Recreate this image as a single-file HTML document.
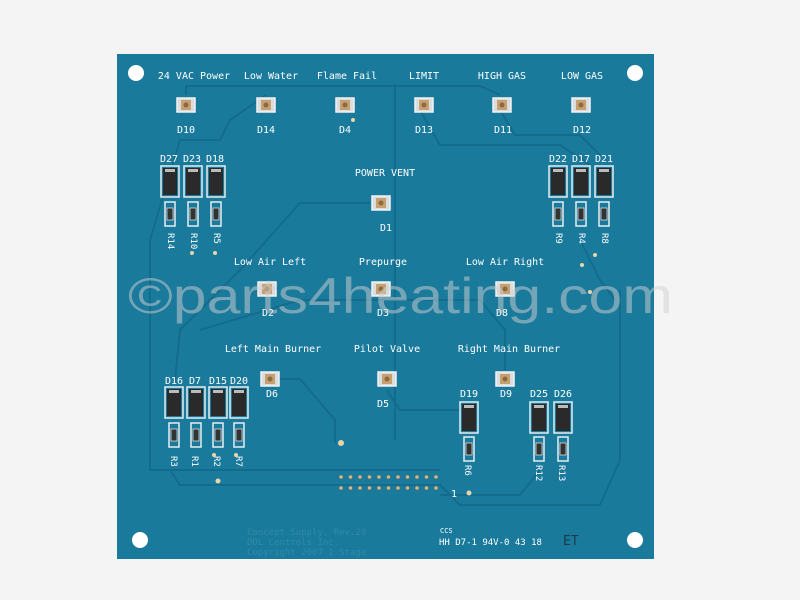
<!DOCTYPE html>
<html><head><meta charset="utf-8"><style>
html,body{margin:0;padding:0;background:#f4f4f4;}
svg{display:block;}
text{font-family:"DejaVu Sans Mono","Liberation Mono",monospace;}
</style></head><body>
<svg width="800" height="600" viewBox="0 0 800 600" xmlns="http://www.w3.org/2000/svg">
<defs>
<g id="led">
<rect x="-9" y="-7" width="18" height="14" fill="#d9dde0" stroke="#f2f2f2" stroke-width="1.5"/>
<rect x="-5" y="-5" width="10" height="10" fill="#c8a070"/>
<circle cx="0" cy="0" r="2.5" fill="#8a6a40"/>
</g>
<g id="dio">
<rect x="-9" y="0" width="18" height="31" fill="none" stroke="#e8eef0" stroke-width="1.5"/>
<rect x="-7" y="2" width="14" height="27" fill="#2a2a2a"/>
<rect x="-5" y="3" width="10" height="3" fill="#bbb"/>
</g>
<g id="res">
<rect x="-5" y="0" width="10" height="24" fill="none" stroke="#e8eef0" stroke-width="1.5"/>
<rect x="-3" y="6" width="6" height="12" fill="#333" stroke="#ddd" stroke-width="0.8"/>
</g>
</defs>
<rect width="800" height="600" fill="#f4f4f4"/>
<rect x="117" y="54" width="537" height="505" fill="#1a7a9c"/>
<!-- traces -->
<g fill="none" stroke="#136c8c" stroke-width="2">
<path d="M395 84 V440"/>
<path d="M186 95 V86 H480 L500 95"/>
<path d="M266 95 L230 120 L220 140 H180 L150 240 V470 H440"/>
<path d="M420 110 L440 145 H560 L590 165"/>
<path d="M500 110 L515 135 H580 L600 155"/>
<path d="M370 203 H300 L240 270 L180 330 L175 380"/>
<path d="M280 379 H300 L335 420 V443"/>
<path d="M387 390 L400 410 H460"/>
<path d="M505 370 V330 L480 300 H400 L300 300 L200 330"/>
<path d="M170 470 L180 485 H440 L460 505 H600 L620 460 V290"/>
<path d="M440 495 H520 L540 470"/>
<path d="M580 240 L600 280 L615 300"/>
</g>
<!-- holes -->
<circle cx="136" cy="73" r="8" fill="#fff"/>
<circle cx="635" cy="73" r="8" fill="#fff"/>
<circle cx="140" cy="540" r="8" fill="#fff"/>
<circle cx="635" cy="540" r="8" fill="#fff"/>
<g fill="#fff" font-size="10" text-anchor="middle">
<text x="194" y="79">24 VAC Power</text>
<text x="271" y="79">Low Water</text>
<text x="347" y="79">Flame Fail</text>
<text x="424" y="79">LIMIT</text>
<text x="502" y="79">HIGH GAS</text>
<text x="582" y="79">LOW GAS</text>
<text x="186" y="133">D10</text><text x="266" y="133">D14</text><text x="345" y="133">D4</text>
<text x="424" y="133">D13</text><text x="503" y="133">D11</text><text x="582" y="133">D12</text>
<text x="169" y="162">D27</text><text x="192" y="162">D23</text><text x="215" y="162">D18</text>
<text x="558" y="162">D22</text><text x="581" y="162">D17</text><text x="604" y="162">D21</text>
<text x="385" y="176">POWER VENT</text>
<text x="386" y="231">D1</text>
<text x="270" y="265">Low Air Left</text>
<text x="383" y="265">Prepurge</text>
<text x="505" y="265">Low Air Right</text>
<text x="268" y="316">D2</text><text x="383" y="316">D3</text><text x="502" y="316">D8</text>
<text x="273" y="352">Left Main Burner</text>
<text x="387" y="352">Pilot Valve</text>
<text x="509" y="352">Right Main Burner</text>
<text x="272" y="397">D6</text><text x="383" y="407">D5</text><text x="506" y="397">D9</text>
<text x="469" y="397">D19</text><text x="539" y="397">D25</text><text x="563" y="397">D26</text>
<text x="174" y="384">D16</text><text x="195" y="384">D7</text><text x="218" y="384">D15</text><text x="239" y="384">D20</text>
<text x="454" y="497">1</text>
</g>
<g fill="#fff" font-size="9">
<text transform="translate(168,233) rotate(90)">R14</text>
<text transform="translate(191,233) rotate(90)">R10</text>
<text transform="translate(214,233) rotate(90)">R5</text>
<text transform="translate(556,233) rotate(90)">R9</text>
<text transform="translate(579,233) rotate(90)">R4</text>
<text transform="translate(602,233) rotate(90)">R8</text>
<text transform="translate(171,456) rotate(90)">R3</text>
<text transform="translate(192,456) rotate(90)">R1</text>
<text transform="translate(214,456) rotate(90)">R2</text>
<text transform="translate(236,456) rotate(90)">R7</text>
<text transform="translate(465,465) rotate(90)">R6</text>
<text transform="translate(536,465) rotate(90)">R12</text>
<text transform="translate(559,465) rotate(90)">R13</text>
</g>
<use href="#led" x="186" y="105"/><use href="#led" x="266" y="105"/><use href="#led" x="345" y="105"/>
<use href="#led" x="424" y="105"/><use href="#led" x="502" y="105"/><use href="#led" x="581" y="105"/>
<use href="#led" x="381" y="203"/>
<use href="#led" x="267" y="289"/><use href="#led" x="381" y="289"/><use href="#led" x="505" y="289"/>
<use href="#led" x="270" y="379"/><use href="#led" x="387" y="379"/><use href="#led" x="505" y="379"/>
<use href="#dio" x="170" y="166"/><use href="#dio" x="193" y="166"/><use href="#dio" x="216" y="166"/>
<use href="#dio" x="558" y="166"/><use href="#dio" x="581" y="166"/><use href="#dio" x="604" y="166"/>
<use href="#dio" x="174" y="387"/><use href="#dio" x="196" y="387"/><use href="#dio" x="218" y="387"/><use href="#dio" x="239" y="387"/>
<use href="#dio" x="469" y="402"/><use href="#dio" x="539" y="402"/><use href="#dio" x="563" y="402"/>
<use href="#res" x="170" y="202"/><use href="#res" x="193" y="202"/><use href="#res" x="216" y="202"/>
<use href="#res" x="558" y="202"/><use href="#res" x="581" y="202"/><use href="#res" x="604" y="202"/>
<use href="#res" x="174" y="423"/><use href="#res" x="196" y="423"/><use href="#res" x="218" y="423"/><use href="#res" x="239" y="423"/>
<use href="#res" x="469" y="437"/><use href="#res" x="539" y="437"/><use href="#res" x="563" y="437"/>
<g fill="#e8d6a8">
<circle cx="353" cy="120" r="2"/><circle cx="192" cy="253" r="2"/><circle cx="215" cy="253" r="2"/>
<circle cx="595" cy="255" r="2"/><circle cx="582" cy="265" r="2"/><circle cx="590" cy="292" r="2"/>
<circle cx="341" cy="443" r="3"/><circle cx="218" cy="481" r="2.5"/><circle cx="469" cy="493" r="2.5"/>
<circle cx="214" cy="455" r="2"/><circle cx="236" cy="455" r="2"/>
</g>
<g fill="#c9b890" stroke="#3a6a7a" stroke-width="0.8">
<circle cx="341" cy="477" r="2.2"/><circle cx="350.5" cy="477" r="2.2"/><circle cx="360" cy="477" r="2.2"/><circle cx="369.5" cy="477" r="2.2"/><circle cx="379" cy="477" r="2.2"/><circle cx="388.5" cy="477" r="2.2"/><circle cx="398" cy="477" r="2.2"/><circle cx="407.5" cy="477" r="2.2"/><circle cx="417" cy="477" r="2.2"/><circle cx="426.5" cy="477" r="2.2"/><circle cx="436" cy="477" r="2.2"/>
<circle cx="341" cy="488" r="2.2"/><circle cx="350.5" cy="488" r="2.2"/><circle cx="360" cy="488" r="2.2"/><circle cx="369.5" cy="488" r="2.2"/><circle cx="379" cy="488" r="2.2"/><circle cx="388.5" cy="488" r="2.2"/><circle cx="398" cy="488" r="2.2"/><circle cx="407.5" cy="488" r="2.2"/><circle cx="417" cy="488" r="2.2"/><circle cx="426.5" cy="488" r="2.2"/><circle cx="436" cy="488" r="2.2"/>
</g>
<g fill="#fff" font-size="9">
<text x="440" y="533" font-size="7">CCS</text>
<text x="439" y="545">HH D7-1 94V-0 43 18</text>
<text x="563" y="545" font-size="13" fill="#1d3a48">ET</text>
</g>
<g fill="#2f8aa8" font-size="9">
<text x="247" y="535">Concept Supply, Rev.20</text>
<text x="247" y="545">DDL Controls Inc.</text>
<text x="247" y="555">Copyright 2007  1 Stage</text>
</g>
<text x="128" y="313" style="font-family:'Liberation Sans',sans-serif" font-size="50" fill="#d0d0d0" fill-opacity="0.5" textLength="545" lengthAdjust="spacingAndGlyphs">©parts4heating.com</text>
</svg>
</body></html>
